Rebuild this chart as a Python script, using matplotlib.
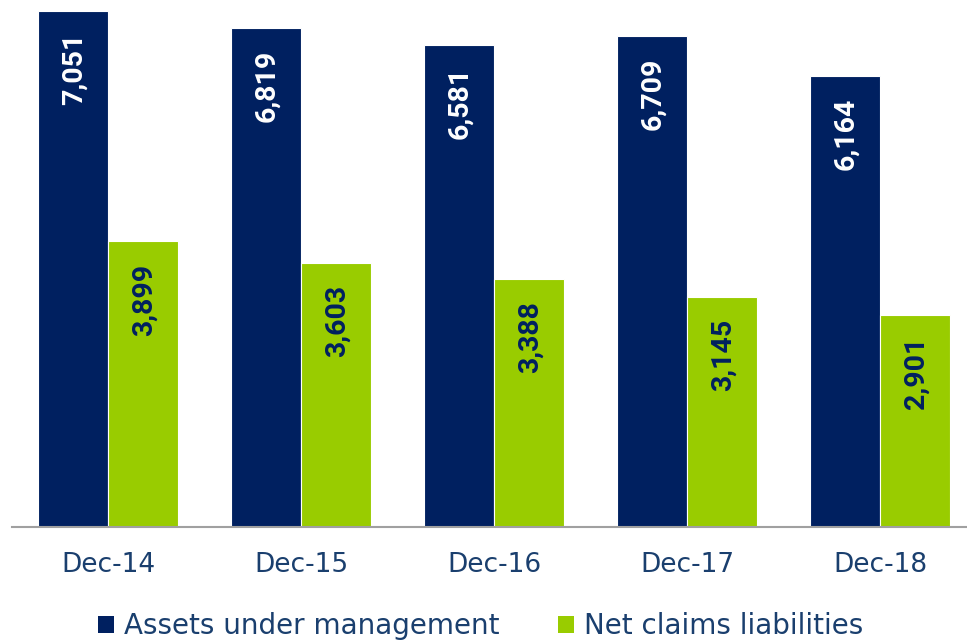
import matplotlib
matplotlib.use("Agg")
import matplotlib.pyplot as plt
import numpy as np
from matplotlib.patches import Patch

categories = ["Dec-14", "Dec-15", "Dec-16", "Dec-17", "Dec-18"]
assets = [7051, 6819, 6581, 6709, 6164]
claims = [3899, 3603, 3388, 3145, 2901]
series_names = ["Assets under management", "Net claims liabilities"]

NAVY = "#002060"
GREEN = "#99cc00"
TICK_COLOR = "#1a3f6e"

fig = plt.figure(figsize=(9.67, 6.43), dpi=100)
ax = fig.add_axes([11.5 / 967, 116 / 643, 965 / 967, 527 / 643])

x = np.arange(len(categories))
w = 0.363
b1 = ax.bar(x - w / 2, assets, w, color=NAVY, edgecolor="white", linewidth=0.8)
b2 = ax.bar(x + w / 2, claims, w, color=GREEN, edgecolor="white", linewidth=0.8)

for rect, v in zip(b1, assets):
    ax.annotate(f"{v:,}", (rect.get_x() + rect.get_width() / 2, rect.get_height()),
                xytext=(1, -22), textcoords="offset pixels", rotation=90,
                ha="center", va="top", color="white", fontsize=20.5,
                fontweight="bold", family="Roboto")
for rect, v in zip(b2, claims):
    ax.annotate(f"{v:,}", (rect.get_x() + rect.get_width() / 2, rect.get_height()),
                xytext=(1, -22), textcoords="offset pixels", rotation=90,
                ha="center", va="top", color=NAVY, fontsize=20.5,
                fontweight="bold", family="Roboto")

ax.set_xlim(-0.5, 4.5)
ax.set_ylim(0, 7197)
ax.set_xticks(x)
ax.set_xticklabels(categories, fontsize=19, color=TICK_COLOR, family="DejaVu Sans")
ax.tick_params(axis="x", length=0, pad=18)
ax.set_yticks([])
for s in ["top", "right", "left"]:
    ax.spines[s].set_visible(False)
ax.spines["bottom"].set_color("#a0a0a0")
ax.spines["bottom"].set_linewidth(1.5)

handles = [Patch(facecolor=NAVY, edgecolor="none"), Patch(facecolor=GREEN, edgecolor="none")]
leg = fig.legend(handles, series_names, loc="center", bbox_to_anchor=(0.497, 0.026),
                 ncol=2, frameon=False, fontsize=20, handlelength=0.58, handleheight=0.58,
                 handletextpad=0.35, columnspacing=2.1, labelcolor=TICK_COLOR,
                 borderpad=0.1)

fig.savefig("out.png", dpi=100)
